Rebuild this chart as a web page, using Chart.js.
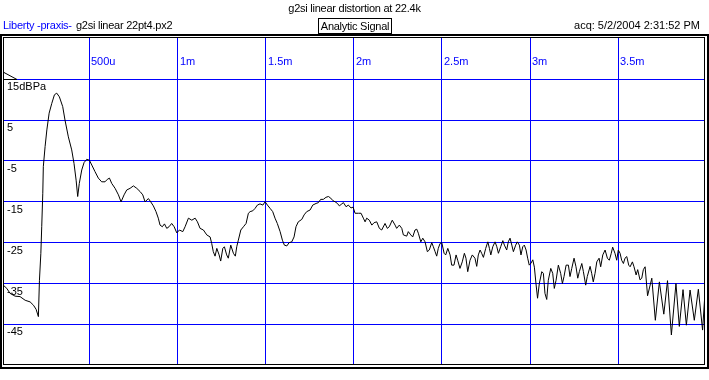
<!DOCTYPE html>
<html>
<head>
<meta charset="utf-8">
<title>g2si linear distortion at 22.4k</title>
<script src="https://cdn.jsdelivr.net/npm/chart.js@4.4.0/dist/chart.umd.min.js"></script>
<style>
    body { margin: 0; background: #fff; }
    #wrap { position: relative; width: 709px; height: 380px; font-family: 'Liberation Sans', Arial, sans-serif; font-size: 11px; color: #000; }
    #wrap .txt { position: absolute; line-height: 13px; white-space: nowrap; letter-spacing: -0.25px; }
    #chart { position: absolute; left: 0; top: 0; }
</style>
</head>
<body>
<div id="wrap">
    <canvas id="chart" width="709" height="380"></canvas>
    <div class="txt" style="left:0;top:2px;width:709px;text-align:center">g2si linear distortion at 22.4k</div>
    <div class="txt" style="left:3px;top:19px;color:#0000ff">Liberty -praxis-</div>
    <div class="txt" style="left:76px;top:19px">g2si linear 22pt4.px2</div>
    <div class="txt" style="left:318px;top:18px;width:72px;height:14px;line-height:14px;border:1px solid #000;text-align:center">Analytic Signal</div>
    <div class="txt" style="right:9px;top:19px;letter-spacing:0">acq: 5/2/2004 2:31:52 PM</div>
</div>
<script>
// time in microseconds, one row here matches the same row in levelDb
const timeUs = [
    12, 32, 50, 79, 107, 136, 164, 183, 198, 211,
    217, 225, 230, 236, 239, 249, 259, 272, 287, 302,
    315, 330, 349, 362, 381, 400, 413, 425, 434, 443,
    457, 470, 485, 500, 514, 532, 551, 570, 589, 602,
    614, 627, 646, 665, 680, 697, 712, 731, 750, 769,
    788, 803, 816, 835, 848, 863, 878, 891, 901, 914,
    926, 939, 952, 967, 981, 996, 1011, 1030, 1043, 1062,
    1081, 1100, 1113, 1128, 1147, 1166, 1185, 1194, 1203, 1213,
    1223, 1236, 1245, 1257, 1266, 1279, 1288, 1302, 1317, 1328,
    1336, 1345, 1359, 1374, 1389, 1402, 1412, 1427, 1440, 1453,
    1468, 1484, 1497, 1510, 1525, 1540, 1553, 1566, 1582, 1595,
    1606, 1620, 1633, 1648, 1661, 1672, 1685, 1705, 1718, 1733,
    1752, 1767, 1786, 1799, 1812, 1827, 1842, 1856, 1869, 1881,
    1894, 1907, 1918, 1932, 1941, 1956, 1969, 1984, 1996, 2007,
    2026, 2041, 2054, 2064, 2073, 2088, 2102, 2115, 2130, 2145,
    2158, 2177, 2190, 2201, 2218, 2234, 2243, 2258, 2272, 2281,
    2300, 2309, 2323, 2334, 2347, 2357, 2366, 2380, 2391, 2404,
    2417, 2428, 2442, 2451, 2461, 2470, 2479, 2489, 2499, 2512,
    2521, 2533, 2546, 2555, 2568, 2580, 2589, 2602, 2615, 2627,
    2636, 2646, 2659, 2672, 2687, 2697, 2706, 2716, 2725, 2735,
    2748, 2760, 2769, 2777, 2788, 2801, 2811, 2820, 2833, 2845,
    2854, 2867, 2876, 2886, 2896, 2905, 2918, 2927, 2939, 2948,
    2958, 2967, 2977, 2986, 2995, 3005, 3015, 3024, 3033, 3042,
    3052, 3066, 3075, 3084, 3094, 3103, 3117, 3128, 3137, 3147,
    3160, 3173, 3183, 3192, 3204, 3217, 3226, 3236, 3249, 3260,
    3270, 3279, 3293, 3302, 3315, 3324, 3340, 3349, 3358, 3368,
    3378, 3391, 3400, 3412, 3425, 3438, 3449, 3460, 3468, 3481,
    3491, 3500, 3510, 3519, 3529, 3538, 3548, 3559, 3567, 3580,
    3589, 3601, 3610, 3623, 3633, 3642, 3652, 3666, 3690, 3710,
    3733, 3758, 3779, 3801, 3827, 3846, 3867, 3886, 3907, 3931,
    3954, 3978, 3992
];

// level in dB re 1 Pa
const levelDb = [
    -35.4, -36.2, -37.4, -38.1, -38.2, -39.1, -39.5, -40.3, -41.3, -43.1,
    -34.2, -27.6, -21.1, -12.9, -6.4, -1.5, 2.6, 6.7, 9.1, 11.2,
    11.6, 10.7, 8.3, 5.0, 0.9, -2.3, -5.6, -9.7, -13.7, -10.5,
    -7.2, -5.4, -4.6, -4.8, -6.0, -7.6, -9.2, -10.1, -10.1, -9.5,
    -9.2, -10.5, -11.7, -13.3, -15.0, -13.3, -12.1, -11.7, -11.1, -11.7,
    -12.5, -13.3, -15.0, -14.2, -15.0, -16.0, -17.4, -19.0, -20.7, -21.1,
    -20.4, -21.5, -21.1, -20.3, -21.1, -22.6, -21.9, -22.3, -21.1, -19.0,
    -19.5, -19.0, -19.9, -21.5, -21.9, -23.1, -23.6, -25.2, -27.2, -28.3,
    -26.4, -28.0, -29.5, -26.4, -26.0, -28.0, -28.8, -25.6, -27.6, -28.3,
    -26.0, -24.4, -21.9, -21.1, -20.3, -17.8, -17.4, -17.2, -16.6, -15.8,
    -15.5, -15.8, -15.0, -15.8, -16.6, -17.4, -19.0, -20.3, -22.3, -24.4,
    -25.6, -25.8, -25.0, -24.8, -23.6, -21.1, -19.9, -19.3, -18.2, -17.4,
    -17.0, -15.8, -15.4, -15.2, -14.4, -14.4, -13.9, -13.7, -14.1, -14.7,
    -15.0, -15.4, -16.0, -15.5, -15.2, -16.2, -15.8, -16.5, -16.3, -17.8,
    -17.8, -17.8, -19.0, -19.9, -19.0, -19.5, -20.7, -20.1, -19.9, -21.5,
    -21.9, -20.3, -21.5, -21.1, -19.5, -20.7, -21.5, -20.7, -21.5, -23.1,
    -23.4, -22.3, -23.1, -23.6, -21.9, -21.7, -22.7, -24.8, -23.9, -24.8,
    -27.2, -26.8, -25.0, -26.0, -27.2, -28.3, -26.4, -25.2, -25.0, -27.6,
    -28.0, -26.4, -28.0, -30.5, -30.5, -28.0, -29.3, -31.3, -29.7, -27.6,
    -28.8, -32.1, -29.3, -28.0, -28.8, -30.8, -28.0, -26.8, -27.6, -28.6,
    -26.4, -24.8, -26.4, -28.0, -26.0, -24.8, -26.0, -27.6, -26.0, -24.5,
    -25.6, -26.8, -24.8, -23.9, -25.6, -27.2, -25.6, -24.8, -25.6, -28.0,
    -26.0, -25.6, -26.8, -28.8, -30.5, -30.0, -29.2, -31.0, -35.0, -38.6,
    -35.0, -32.1, -32.5, -37.4, -38.9, -34.2, -31.3, -32.5, -36.2, -34.2,
    -30.5, -32.5, -35.0, -33.3, -30.5, -30.5, -33.3, -31.3, -28.8, -30.9,
    -33.7, -32.1, -30.1, -32.1, -35.4, -33.3, -30.8, -32.5, -34.6, -32.5,
    -29.7, -28.8, -30.9, -28.0, -26.8, -28.8, -29.3, -27.6, -26.1, -27.6,
    -29.3, -26.8, -27.6, -29.3, -30.1, -28.8, -28.4, -30.5, -30.9, -29.7,
    -30.9, -32.9, -31.6, -34.1, -33.7, -31.6, -30.9, -38.0, -33.7, -44.0,
    -34.6, -42.5, -34.3, -47.6, -35.0, -45.5, -36.5, -45.2, -36.6, -44.0,
    -36.4, -46.4, -37.0
];

const xTickValues = [500, 1000, 1500, 2000, 2500, 3000, 3500];
const xTickLabels = ['500u', '1m', '1.5m', '2m', '2.5m', '3m', '3.5m'];
const yTickValues = [15, 5, -5, -15, -25, -35, -45];
const yTickLabels = ['15dBPa', '5', '-5', '-15', '-25', '-35', '-45'];

const blue = '#0000ff';
const font = { family: "'Liberation Sans', Arial, sans-serif", size: 11 };

// x labels sit inside the plot, plus the ref marker and the double frame
const plotDecor = {
    id: 'plotDecor',
    afterDraw(chart) {
        const ctx = chart.ctx;
        const xs = chart.scales.x;
        const ys = chart.scales.y;
        ctx.save();
        ctx.font = "11px 'Liberation Sans', Arial, sans-serif";
        ctx.fillStyle = blue;
        ctx.textBaseline = 'alphabetic';
        ctx.textAlign = 'left';
        xTickValues.forEach((v, i) => {
            ctx.fillText(xTickLabels[i], Math.round(xs.getPixelForValue(v)) + 2, 65);
        });

        const ref = Math.round(ys.getPixelForValue(yTickValues[0])) + 0.5;
        ctx.strokeStyle = '#000';
        ctx.lineWidth = 1;
        ctx.beginPath();
        ctx.moveTo(4, ref - 7);
        ctx.lineTo(17, ref);
        ctx.lineTo(4, ref);
        ctx.stroke();

        ctx.lineWidth = 2;
        ctx.strokeRect(1, 35, 707, 333);
        ctx.lineWidth = 1;
        ctx.strokeRect(3.5, 37.5, 701, 327);
        ctx.restore();
    }
};

new Chart(document.getElementById('chart'), {
    type: 'line',
    data: {
        datasets: [{
            data: timeUs.map((t, i) => ({ x: t, y: levelDb[i] })),
            borderColor: '#000',
            borderWidth: 1,
            pointRadius: 0,
            tension: 0,
            fill: false
        }]
    },
    options: {
        responsive: false,
        animation: false,
        events: [],
        layout: { padding: { left: 4, right: 5, top: 38, bottom: 16 } },
        plugins: { legend: { display: false }, tooltip: { enabled: false } },
        scales: {
            x: {
                type: 'linear',
                min: 16,
                max: 3986,
                afterBuildTicks: s => { s.ticks = xTickValues.map(v => ({ value: v })); },
                afterFit: s => { s.height = 0; },
                grid: { color: blue, lineWidth: 1, drawTicks: false },
                border: { display: false },
                ticks: { display: false }
            },
            y: {
                type: 'linear',
                min: -54.7,
                max: 25.1,
                afterBuildTicks: s => { s.ticks = yTickValues.map(v => ({ value: v })); },
                afterFit: s => { s.width = 0; },
                grid: { color: blue, lineWidth: 1, drawTicks: false },
                border: { display: false },
                ticks: {
                    mirror: true,
                    padding: 3,
                    labelOffset: 8,
                    color: '#000',
                    font: font,
                    callback: v => yTickLabels[yTickValues.indexOf(v)]
                }
            }
        }
    },
    plugins: [plotDecor]
});
</script>
</body>
</html>
